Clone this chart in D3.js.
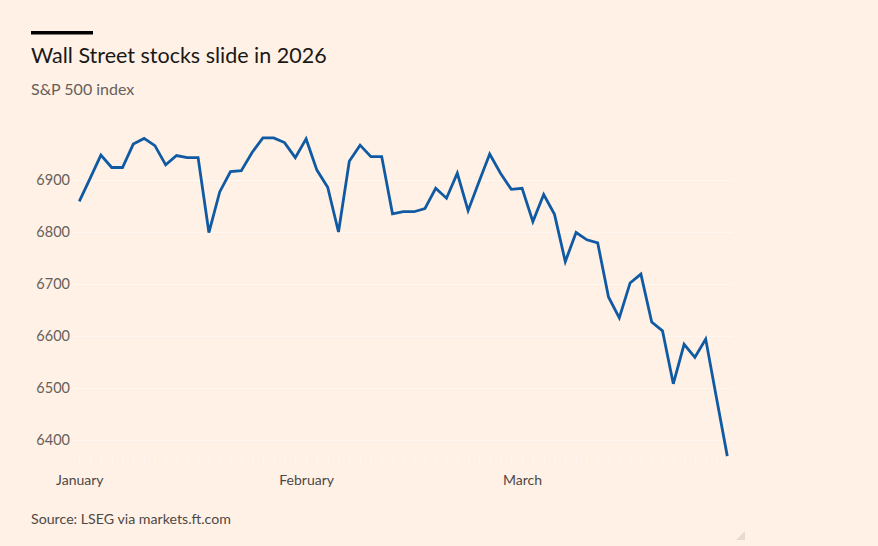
<!DOCTYPE html>
<html>
<head>
<meta charset="utf-8">
<script src="https://cdn.jsdelivr.net/npm/d3@7"></script>
<style>
    html, body { margin: 0; padding: 0; background: #fff1e5; }
    #chart-area { width: 878px; height: 546px; }
    text { font-family: Lato, "Open Sans", sans-serif; }
</style>
</head>
<body>
<div id="chart-area"></div>
<script>

// trading days (weekdays, holidays carried forward)
const dates = [
    "2026-01-02",
    "2026-01-05", "2026-01-06", "2026-01-07", "2026-01-08", "2026-01-09",
    "2026-01-12", "2026-01-13", "2026-01-14", "2026-01-15", "2026-01-16",
    "2026-01-19", "2026-01-20", "2026-01-21", "2026-01-22", "2026-01-23",
    "2026-01-26", "2026-01-27", "2026-01-28", "2026-01-29", "2026-01-30",
    "2026-02-02", "2026-02-03", "2026-02-04", "2026-02-05", "2026-02-06",
    "2026-02-09", "2026-02-10", "2026-02-11", "2026-02-12", "2026-02-13",
    "2026-02-16", "2026-02-17", "2026-02-18", "2026-02-19", "2026-02-20",
    "2026-02-23", "2026-02-24", "2026-02-25", "2026-02-26", "2026-02-27",
    "2026-03-02", "2026-03-03", "2026-03-04", "2026-03-05", "2026-03-06",
    "2026-03-09", "2026-03-10", "2026-03-11", "2026-03-12", "2026-03-13",
    "2026-03-16", "2026-03-17", "2026-03-18", "2026-03-19", "2026-03-20",
    "2026-03-23", "2026-03-24", "2026-03-25", "2026-03-26", "2026-03-27"
];

// S&P 500 close
const closes = [
    6859,
    6903, 6948, 6924, 6924, 6969,
    6980, 6966, 6929, 6947, 6943,
    6943, 6799, 6877, 6916, 6918,
    6953, 6981, 6981, 6972, 6943,
    6979, 6919, 6886, 6800, 6936,
    6967, 6945, 6945, 6835, 6839,
    6839, 6845, 6884, 6865, 6913,
    6841, 6896, 6950, 6913, 6882,
    6884, 6820, 6872, 6834, 6743,
    6799, 6785, 6779, 6675, 6635,
    6702, 6719, 6627, 6610, 6508,
    6584, 6559, 6594, 6481, 6369
];

const monthTicks = ["2026-01-02", "2026-02-02", "2026-03-02"];
const monthNames = ["January", "February", "March"];
const yTicks = [6400, 6500, 6600, 6700, 6800, 6900];

const title = "Wall Street stocks slide in 2026";
const subtitle = "S&P 500 index";
const source = "Source: LSEG via markets.ft.com";


class IndexChart {

    constructor(parentElement, dates, closes) {
        this.parentElement = parentElement;
        this.dates = dates;
        this.closes = closes;

        this.initVis();
    }

    initVis() {
        let vis = this;

        vis.width = 878;
        vis.height = 546;

        vis.svg = d3.select(`#${vis.parentElement}`).append("svg")
            .attr("width", vis.width)
            .attr("height", vis.height);

        vis.svg.append("rect")
            .attr("width", vis.width)
            .attr("height", vis.height)
            .attr("fill", "#fff1e5");

        // header
        vis.svg.append("rect")
            .attr("x", 31).attr("y", 31)
            .attr("width", 62).attr("height", 3.5)
            .attr("fill", "#000");

        vis.svg.append("text")
            .attr("x", 31).attr("y", 63)
            .attr("font-size", 21.5)
            .attr("fill", "#1a1817")
            .text(title);

        vis.svg.append("text")
            .attr("x", 31).attr("y", 95)
            .attr("font-size", 16)
            .attr("fill", "#66605c")
            .text(subtitle);

        vis.svg.append("text")
            .attr("x", 31).attr("y", 524)
            .attr("font-size", 14.2)
            .attr("fill", "#4d4845")
            .text(source);

        // scales
        vis.x = d3.scalePoint()
            .range([79.3, 727.3]);

        vis.y = d3.scaleLinear()
            .range([440, 180]);

        vis.plotLeft = 73;
        vis.plotRight = 733;

        vis.yAxis = d3.axisLeft(vis.y)
            .tickValues(yTicks)
            .tickSize(vis.plotRight - vis.plotLeft)
            .tickPadding(3)
            .tickFormat(d3.format("d"));

        vis.dayAxis = d3.axisBottom(vis.x)
            .tickSize(10)
            .tickFormat("");

        vis.monthAxis = d3.axisBottom(vis.x)
            .tickValues(monthTicks)
            .tickSize(0)
            .tickPadding(20)
            .tickFormat(d => monthNames[monthTicks.indexOf(d)]);

        vis.svg.append("g")
            .attr("class", "y-axis")
            .attr("transform", `translate(${vis.plotRight},0)`);

        vis.svg.append("g")
            .attr("class", "day-axis")
            .attr("transform", "translate(0,455)");

        vis.svg.append("g")
            .attr("class", "month-axis")
            .attr("transform", "translate(0,455)");

        vis.wrangleData();
    }

    wrangleData() {
        let vis = this;

        vis.displayData = vis.dates.map((d, i) => ({ date: d, close: vis.closes[i] }));

        vis.updateVis();
    }

    updateVis() {
        let vis = this;

        vis.x.domain(vis.dates);
        vis.y.domain([6400, 6900]);

        // axes
        vis.svg.select(".y-axis").call(vis.yAxis)
            .call(g => g.select(".domain").remove())
            .call(g => g.selectAll(".tick line")
                .attr("stroke", "#fff7f0")
                .attr("stroke-width", 1))
            .call(g => g.selectAll(".tick text")
                .attr("font-size", 14.5)
                .attr("font-family", "Lato, 'Open Sans', sans-serif")
                .attr("fill", "#66605c"));

        vis.svg.select(".day-axis").call(vis.dayAxis)
            .call(g => g.select(".domain").remove())
            .call(g => g.selectAll(".tick line")
                .attr("stroke", "#fff7f0")
                .attr("stroke-width", 1));

        vis.svg.select(".month-axis").call(vis.monthAxis)
            .call(g => g.select(".domain").remove())
            .call(g => g.selectAll(".tick text")
                .attr("font-size", 14)
                .attr("font-family", "Lato, 'Open Sans', sans-serif")
                .attr("fill", "#4d4845"));

        // line
        vis.line = d3.line()
            .x(d => vis.x(d.date))
            .y(d => vis.y(d.close));

        vis.svg.append("path")
            .datum(vis.displayData)
            .attr("fill", "none")
            .attr("stroke", "#0f5aa3")
            .attr("stroke-width", 2.8)
            .attr("stroke-linejoin", "miter")
            .attr("d", vis.line);

        // small corner mark
        vis.svg.append("path")
            .attr("d", "M745,531 L745,540 L736,540 Z")
            .attr("fill", "#e6dbd2");
    }
}

new IndexChart("chart-area", dates, closes);

</script>
</body>
</html>
